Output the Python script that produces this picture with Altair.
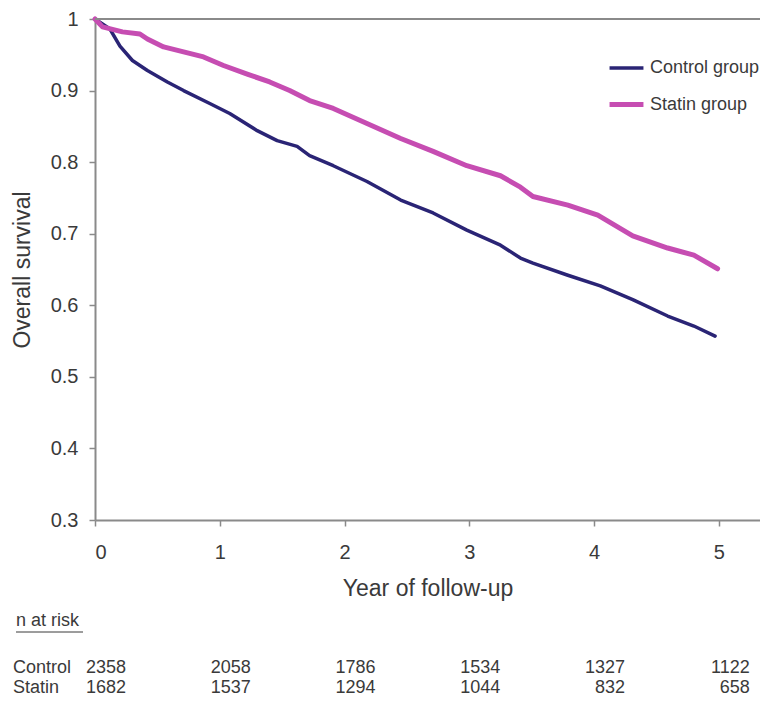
import altair as alt
import pandas as pd

# ---- data ----
control_t = [0, 0.06, 0.12, 0.20, 0.30, 0.42, 0.58, 0.71, 0.92, 1.08, 1.30, 1.46, 1.62, 1.72,
             1.91, 2.18, 2.45, 2.71, 2.98, 3.25, 3.41, 3.51, 3.79, 4.05, 4.31, 4.59, 4.80, 4.97]
control_s = [1.0, 0.993, 0.986, 0.962, 0.942, 0.928, 0.912, 0.900, 0.882, 0.868, 0.844, 0.830, 0.822, 0.809,
             0.795, 0.773, 0.747, 0.729, 0.705, 0.684, 0.666, 0.659, 0.642, 0.627, 0.608, 0.585, 0.571, 0.557]
statin_t = [0, 0.06, 0.22, 0.36, 0.42, 0.55, 0.71, 0.87, 1.03, 1.22, 1.40, 1.56, 1.72,
            1.91, 2.18, 2.45, 2.71, 2.98, 3.25, 3.41, 3.51, 3.79, 4.03, 4.31, 4.59, 4.80, 4.99]
statin_s = [1.0, 0.989, 0.982, 0.979, 0.972, 0.961, 0.954, 0.947, 0.935, 0.923, 0.912, 0.900, 0.886,
            0.875, 0.854, 0.833, 0.815, 0.795, 0.781, 0.765, 0.752, 0.740, 0.726, 0.697, 0.680, 0.670, 0.651]

years = [0, 1, 2, 3, 4, 5]
y_ticks = [0.3, 0.4, 0.5, 0.6, 0.7, 0.8, 0.9, 1.0]
control_n = [2358, 2058, 1786, 1534, 1327, 1122]
statin_n = [1682, 1537, 1294, 1044, 832, 658]

groups = ["Control group", "Statin group"]
colors = ["#2a2475", "#c64db2"]

FONT = "Liberation Sans"
TXT = "#3a3a3a"
AX = "#8a8a8a"

curves = pd.concat([
    pd.DataFrame({"t": control_t, "s": control_s, "g": groups[0]}),
    pd.DataFrame({"t": statin_t, "s": statin_s, "g": groups[1]}),
])

control_df = pd.DataFrame({"year": years, "n": control_n, "row": "Control"})
statin_df = pd.DataFrame({"year": years, "n": statin_n, "row": "Statin"})

xscale = alt.Scale(domain=[0, 5.33], nice=False, zero=False)
yscale = alt.Scale(domain=[0.3, 1.0], nice=False, zero=False)
yaxis = alt.Axis(values=y_ticks,
                 labelExpr="datum.value == 1 ? '1' : format(datum.value, '.1f')",
                 title="Overall survival")

lines = alt.Chart(curves).mark_line(strokeJoin="round", strokeCap="round").encode(
    x=alt.X("t:Q", scale=xscale,
            axis=alt.Axis(values=years, title="Year of follow-up", format="d")),
    y=alt.Y("s:Q", scale=yscale, axis=yaxis),
    color=alt.Color("g:N", scale=alt.Scale(domain=groups, range=colors),
                    legend=alt.Legend(title=None, orient="none", legendX=512, legendY=30,
                                      symbolType="stroke", symbolSize=1150, symbolStrokeWidth=3.5,
                                      labelFontSize=18, labelFont=FONT, labelColor=TXT,
                                      rowPadding=8, labelOffset=4, padding=0)),
    strokeWidth=alt.StrokeWidth("g:N", scale=alt.Scale(domain=groups, range=[3.5, 5]), legend=None),
)

top_rule = alt.Chart(pd.DataFrame({"s": [1.0]})).mark_rule(color=AX, strokeWidth=2).encode(
    y=alt.Y("s:Q", scale=yscale, axis=yaxis)
)


def risk_row(df, ypos):
    nums = alt.Chart(df).mark_text(align="right", baseline="middle", dx=31, font=FONT,
                                   fontSize=18, color=TXT).encode(
        x=alt.X("year:Q", scale=xscale),
        y=alt.value(ypos),
        text="n:Q",
    )
    lab = alt.Chart(df.head(1)).mark_text(align="left", baseline="middle", dx=-82, font=FONT,
                                          fontSize=18, color=TXT).encode(
        x=alt.value(0), y=alt.value(ypos), text="row:N",
    )
    return nums + lab


header = alt.Chart(pd.DataFrame({"h": ["n at risk"]})).mark_text(
    align="left", baseline="middle", dx=-79, font=FONT, fontSize=18, color=TXT
).encode(x=alt.value(0), y=alt.value(602), text="h:N")

underline = alt.Chart(pd.DataFrame({"h": ["n at risk"]})).mark_rule(color=TXT, strokeWidth=1).encode(
    x=alt.value(-79), x2=alt.value(-12), y=alt.value(613)
)

chart = alt.layer(
    lines, top_rule, risk_row(control_df, 649), risk_row(statin_df, 669), header, underline
).properties(
    width=665, height=501,
    autosize=alt.AutoSizeParams(type="none"),
    padding={"left": 87, "top": 11, "right": 0, "bottom": 180},
).configure_view(stroke=None).configure_axis(
    grid=False, domainColor=AX, domainWidth=2, tickColor=AX, tickWidth=1.5, tickSize=6,
    labelFont=FONT, labelFontSize=20, labelColor=TXT, titleFont=FONT, titleFontSize=23,
    titleFontWeight="normal", titleColor=TXT,
).configure_axisX(labelPadding=16, titlePadding=15).configure_axisY(labelPadding=11, titlePadding=16)

chart.save("out.html", embed_options={"renderer": "svg", "actions": False})
